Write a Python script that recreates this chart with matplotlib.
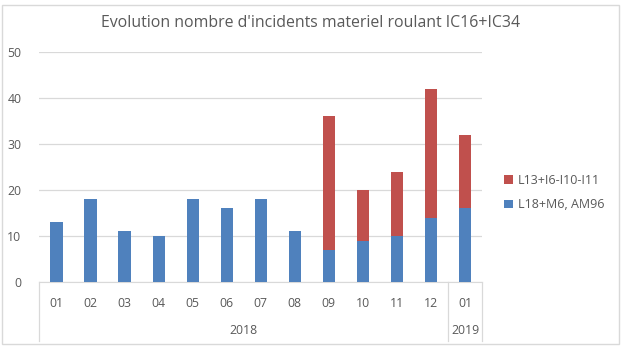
import numpy as np
import matplotlib
matplotlib.use("Agg")
import matplotlib.pyplot as plt
from matplotlib.patches import Rectangle

# data
months = ["01", "02", "03", "04", "05", "06", "07", "08", "09", "10", "11", "12", "01"]
years = ["2018", "2019"]
year_counts = [12, 1]
blue_vals = [13, 18, 11, 10, 18, 16, 18, 11, 7, 9, 10, 14, 16]   # L18+M6, AM96
red_vals = [0, 0, 0, 0, 0, 0, 0, 0, 29, 11, 14, 28, 16]        # L13+I6-I10-I11
blue_name = "L18+M6, AM96"
red_name = "L13+I6-I10-I11"
title = "Evolution nombre d'incidents materiel roulant IC16+IC34"

BLUE = "#4F81BD"
RED = "#C0504D"
GREY = "#595959"
LINE = "#D9D9D9"

plt.rcParams['font.family'] = ['Open Sans', 'DejaVu Sans']

fig = plt.figure(figsize=(6.24, 3.5), dpi=100)
ax = fig.add_axes([0.0633, 0.1943, 0.7091, 0.6571])

x = np.arange(len(months))
ax.bar(x, blue_vals, width=0.36, color=BLUE, label=blue_name, zorder=3)
ax.bar(x, red_vals, width=0.36, bottom=blue_vals, color=RED, label=red_name, zorder=3)

ax.set_xlim(-0.5, len(months) - 0.5)
ax.set_ylim(0, 50)
ax.set_yticks(range(0, 51, 10))
ax.yaxis.grid(True, color=LINE, linewidth=0.9, zorder=0)
ax.set_axisbelow(True)
for s in ["top", "right", "left"]:
    ax.spines[s].set_visible(False)
ax.spines["bottom"].set_color(LINE)
ax.tick_params(axis="y", length=0, pad=13, labelsize=8.8, labelcolor=GREY)
ax.set_xticks(x)
ax.set_xticklabels(months)
ax.tick_params(axis="x", length=0, pad=11, labelsize=8.8, labelcolor=GREY)

# year row + separators below the axis
trans = ax.get_xaxis_transform()
edges = [-0.5]
start = -0.5
for yr, n in zip(years, year_counts):
    ax.text(start + n / 2, -0.21, yr, transform=trans, ha="center", va="center",
            fontsize=8.8, color=GREY)
    start += n
    edges.append(start)
for e in edges:
    ax.plot([e, e], [0, -0.255], transform=trans, color=LINE, linewidth=0.9, clip_on=False)

handles, labels = ax.get_legend_handles_labels()
leg = fig.legend(handles[::-1], labels[::-1], loc="center left", bbox_to_anchor=(0.79, 0.45),
                 frameon=False, fontsize=9, handlelength=0.7, handleheight=0.7,
                 handletextpad=0.4, labelspacing=0.95)
for t in leg.get_texts():
    t.set_color(GREY)

fig.text(0.497, 0.935, title, ha="center", va="center", fontsize=11.4, color=GREY)

# light frame around the chart
fig.patches.append(Rectangle((0.004, 0.017), 0.988, 0.97, transform=fig.transFigure,
                             fill=False, edgecolor=LINE, linewidth=1.0))

fig.savefig("out.png", dpi=100)
